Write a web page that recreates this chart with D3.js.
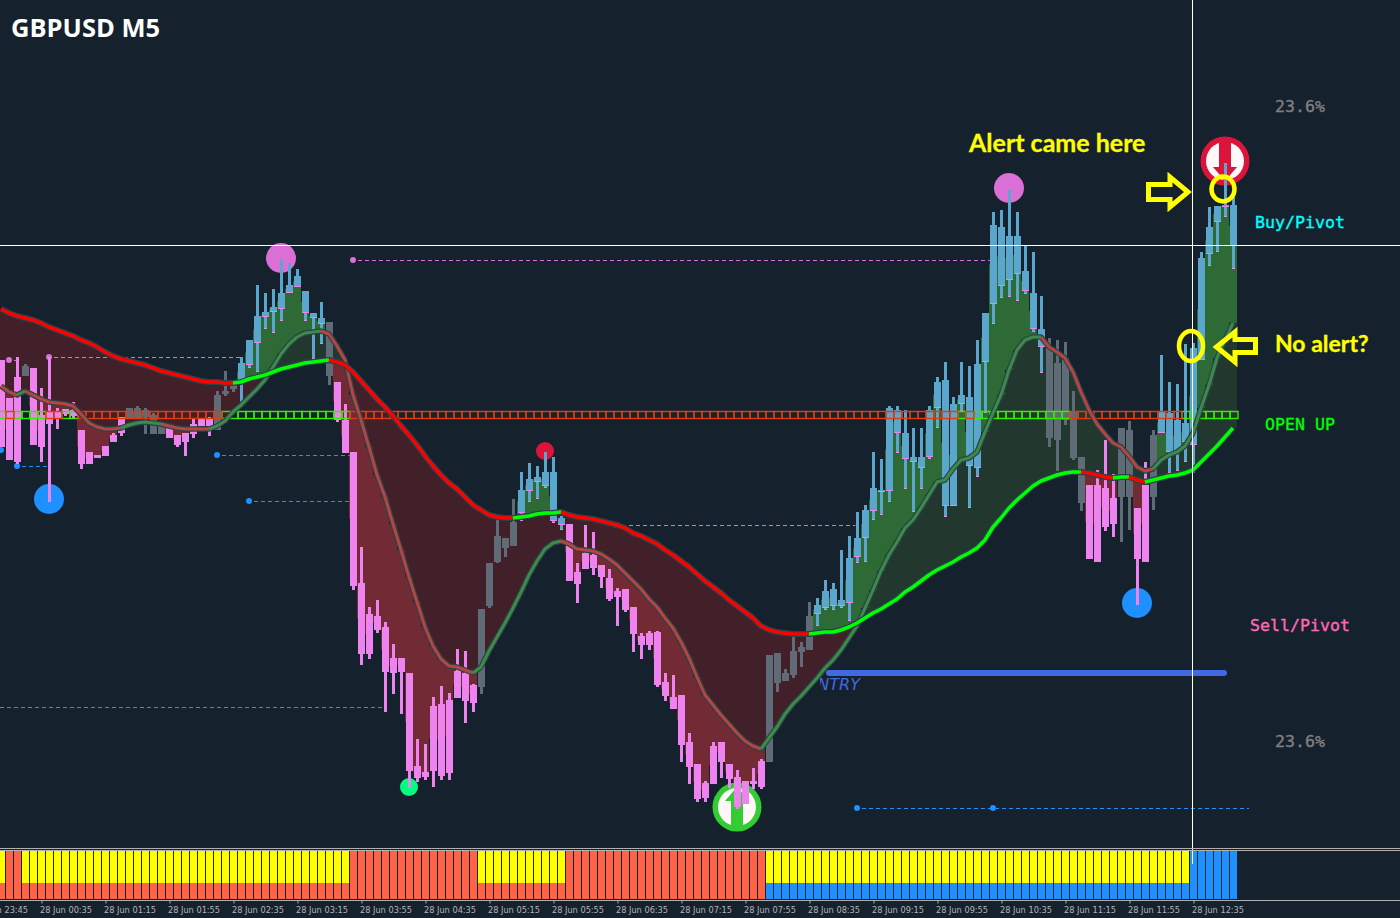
<!DOCTYPE html>
<html>
<head>
<meta charset="utf-8">
<style>
html,body{margin:0;padding:0;background:#16212e;overflow:hidden}
svg{display:block}
</style>
<script src="https://cdnjs.cloudflare.com/ajax/libs/d3/7.8.5/d3.min.js"></script>
</head>
<body>
<svg id="chart" width="1400" height="918"></svg>
<script>
// Values are points below a reference price level. One entry per 5-minute bar.
const kindRunStart = [0,3,4,16,21,27,30,41,42,60,65,71,96,102,131,136,140,142,144,145];
const kindRunType = ["p","g","p","g","p","g","b","g","p","g","b","p","g","b","g","p","g","p","g","b"];
const bodyTop = [360,398,377,366,368,415,412,411,409,410,430,452,455,446,435,417,408,408,410,415,425,428,435,433,424,418,418,395,391,385,363,340,316,312,307,293,285,276,291,313,318,322,382,420,
452,583,614,616,627,658,658,673,766,772,706,704,700,671,673,685,609,563,536,538,522,490,479,477,472,472,518,524,572,553,555,565,578,591,589,607,636,633,632,682,697,695,742,764,783,746,742,764,777,781,781,761,
655,653,673,651,647,616,605,591,589,600,558,538,510,488,490,408,410,433,457,457,410,382,380,404,395,397,364,313,225,227,236,236,271,293,329,348,363,358,412,457,485,485,488,498,428,430,508,485,435,412,413,420,423,348,258,227,206,205,205];
const bodyBottom = [447,460,462,376,445,447,424,419,414,416,464,464,458,456,442,433,418,418,417,434,434,438,445,442,434,426,426,430,394,389,380,365,343,317,312,309,293,287,313,318,324,376,420,453,
586,654,654,630,672,673,672,771,778,777,771,776,773,698,701,703,687,606,562,548,546,513,491,482,486,521,525,581,584,569,568,577,599,597,610,634,645,645,685,696,709,745,767,799,798,784,762,779,807,804,784,787,
762,683,681,675,652,650,614,608,606,606,603,557,538,511,492,491,433,459,462,468,457,408,506,506,404,466,468,362,304,286,280,274,291,329,347,438,440,420,458,503,559,562,527,524,497,497,559,562,497,433,452,451,442,445,360,254,222,207,246];
const wickTop = [360,398,357,364,368,388,357,408,409,402,430,452,455,446,433,417,408,406,408,413,425,428,435,433,419,418,417,391,371,385,357,340,285,293,289,260,263,269,291,313,302,322,382,404,
452,547,607,600,622,644,658,673,739,744,697,686,693,649,651,684,609,563,520,538,499,472,463,466,452,457,516,524,563,525,532,565,569,588,589,607,633,631,631,673,675,695,733,764,781,742,742,764,770,781,768,759,
655,653,669,637,642,602,598,580,583,550,536,512,505,452,459,406,406,410,428,428,406,377,362,397,362,366,340,313,212,210,190,212,245,252,296,338,340,342,391,457,485,470,440,474,428,421,508,462,430,355,382,384,344,343,252,207,206,163,197];
const wickBottom = [447,460,464,376,445,462,502,429,416,418,469,464,458,456,442,436,418,418,434,434,434,438,447,456,438,426,436,430,396,392,405,368,372,329,333,321,293,287,321,359,344,385,422,453,
590,665,659,633,712,694,714,788,782,780,787,780,780,698,723,712,694,608,563,557,546,521,502,499,488,523,530,581,603,569,575,588,601,626,612,652,659,650,687,701,709,762,784,802,802,784,778,788,809,804,789,789,
762,692,681,678,667,650,626,610,610,608,621,563,562,520,515,502,453,489,512,489,459,428,517,506,411,508,477,413,324,298,297,301,294,332,373,447,471,425,460,511,559,562,531,537,542,530,605,562,510,433,473,471,462,473,360,266,252,217,269];
const slowMA = [309,313,316,318,320,323,327,330,333,336,340,343,347,352,356,359,361,363,365,368,371,373,375,377,379,381,382,382,383,383,382,379,377,375,372,369,367,365,363,362,361,360,362,365,372,381,390,399,407,416,426,435,445,456,466,475,483,489,497,505,510,515,517,518,518,517,516,514,513,513,512,515,517,518,519,521,523,525,528,533,536,540,544,550,555,561,567,574,581,587,593,600,606,612,618,626,630,632,633,634,634,634,633,632,632,630,627,623,618,613,609,604,599,592,587,581,575,570,566,562,557,553,548,540,527,518,508,500,493,486,481,478,475,473,472,472,473,475,477,478,477,477,480,482,480,478,476,475,473,470,462,454,446,437,428];
const fastMA = [386,392,395,391,395,399,402,403,404,406,414,423,427,429,429,428,425,423,422,423,424,426,428,429,429,429,429,426,421,412,405,397,389,380,367,354,344,337,333,332,331,334,346,360,395,420,447,475,497,524,550,577,602,627,646,659,666,667,670,673,667,651,637,623,608,592,575,561,549,543,541,544,549,550,551,554,559,565,573,581,589,599,607,618,628,642,658,677,695,705,715,724,733,741,746,749,738,727,714,704,696,687,678,668,660,650,638,626,608,590,571,555,542,528,520,508,495,482,480,469,460,458,452,432,413,395,370,350,340,337,337,347,352,358,372,392,410,424,434,443,447,456,467,471,469,460,455,452,446,433,408,385,358,340,323];
// Trend runs: the bar at which each line changes colour, and the colour it changes to.
const slowRunStart = [0,29,41,64,70,101,135,139,141,143];
const slowRunUp = [false,true,false,true,false,true,false,true,false,true];
const fastRunStart = [0,2,3,15,20,26,40,59,70,95,130,144];
const fastRunUp = [false,true,false,true,false,true,false,true,false,true,false,true];
// OPEN strip: bars where the open sits on the bearish side.
const openDownBars = [[1,1],[6,7],[10,27],[44,119],[121,121],[134,147]];
const openLevelTop = 411.5, openLevelBottom = 418.5;
// Lower panel: runs of bars whose whole column has the trend colour.
const fullColumnRuns = [[1,2],[44,59],[71,95],[149,154]];
const lowerShareBlueFrom = 96;
const tickBars = [-3,5,13,21,29,37,45,53,61,69,77,85,93,101,109,117,125,133,141,149];
const tickLabels = ["28 Jun 23:45","28 Jun 00:35","28 Jun 01:15","28 Jun 01:55","28 Jun 02:35","28 Jun 03:15","28 Jun 03:55","28 Jun 04:35","28 Jun 05:15","28 Jun 05:55","28 Jun 06:35","28 Jun 07:15","28 Jun 07:55","28 Jun 08:35","28 Jun 09:15","28 Jun 09:55","28 Jun 10:35","28 Jun 11:15","28 Jun 11:55","28 Jun 12:35"];
// Signals
const bigSignalBars = [35,6,126,142,68,51];
const bigSignalLevels = [258,499,188,603,451,787];
const bigSignalRadii = [15,15,15,15,9,9];
const bigSignalColors = ["#da70d6","#1e90ff","#da70d6","#1e90ff","#dc143c","#00ff7f"];
const pivotStartBars = [44,6,1,27,31,77,107,2,0];
const pivotEndBars = [123.6,29.9,1.9,43.9,43.9,106.8,156,5.9,1];
const pivotLevels = [260,357,360,455,501,525,808,466,450];
const pivotColors = ["#da70d6","#da70d6","#da70d6","#1e90ff","#1e90ff","#da70d6","#1e90ff","#1e90ff","#1e90ff"];
const extraDashLevel = 707, extraDashEndBar = 48;

const W = 1400, H = 918;
const svg = d3.select("#chart");
const x = d3.scaleLinear().domain([0,154]).range([1,1233]);
const y = d3.scaleLinear().domain([0,918]).range([0,918]);
const bars = d3.range(bodyTop.length);
const barW = x(1)-x(0);
const kindOf = i => kindRunType[d3.bisectRight(kindRunStart,i)-1];

svg.append("rect").attr("width",W).attr("height",H).attr("fill","#16212e");

// Band between the two averages
const bandIdx = [-0.5].concat(bars, [154.5]);
const clampI = i => Math.max(0,Math.min(154,Math.round(i)));
const bandArea = d3.area().x(i=>x(i));
svg.append("path").datum(bandIdx).attr("fill","#42202a")
  .attr("d",bandArea.y0(i=>y(slowMA[clampI(i)])).y1(i=>y(Math.max(slowMA[clampI(i)],fastMA[clampI(i)]))));
svg.append("path").datum(bandIdx).attr("fill","#22382e")
  .attr("d",bandArea.y0(i=>y(slowMA[clampI(i)])).y1(i=>y(Math.min(slowMA[clampI(i)],fastMA[clampI(i)]))));

// Brighter columns between the average and the candle
bars.forEach(i=>{
  const k = kindOf(i);
  if(k==="g") return;
  const mid = (bodyTop[i]+bodyBottom[i])/2;
  if(k==="p"){
    const from = Math.max(fastMA[i],slowMA[i]);
    if(mid>from) svg.append("rect").attr("x",x(i)-barW/2).attr("width",barW).attr("y",y(from)).attr("height",y(mid)-y(from)).attr("fill","#722a35");
  } else {
    const from = Math.min(fastMA[i],slowMA[i]);
    if(mid<from) svg.append("rect").attr("x",x(i)-barW/2).attr("width",barW).attr("y",y(mid)).attr("height",y(from)-y(mid)).attr("fill","#2e6a35");
  }
});

// Pivot dashes
const dashG = svg.append("g");
pivotLevels.forEach((lv,j)=>{
  dashG.append("line").attr("x1",x(pivotStartBars[j])+5).attr("x2",x(pivotEndBars[j]))
    .attr("y1",y(lv)+.5).attr("y2",y(lv)+.5).attr("stroke",pivotColors[j]).attr("stroke-dasharray","4 3");
  dashG.append("circle").attr("cx",x(pivotStartBars[j])).attr("cy",y(lv)).attr("r",3).attr("fill",pivotColors[j]);
});
dashG.append("line").attr("x1",0).attr("x2",x(extraDashEndBar)).attr("y1",y(extraDashLevel)+.5).attr("y2",y(extraDashLevel)+.5).attr("stroke","#1e90ff").attr("stroke-dasharray","4 3");
dashG.append("circle").attr("cx",x(124)).attr("cy",y(808)).attr("r",3).attr("fill","#1e90ff");

// Big signal dots
bigSignalBars.forEach((b,j)=>{
  svg.append("circle").attr("cx",x(b)).attr("cy",y(bigSignalLevels[j])).attr("r",bigSignalRadii[j]).attr("fill",bigSignalColors[j]);
});

// Arrow badges
function badge(bar,level,ring,dir){
  const cx=x(bar), cy=y(level);
  const g=svg.append("g").attr("transform",`translate(${cx},${cy})`);
  g.append("circle").attr("r",24.5).attr("fill",ring);
  g.append("circle").attr("r",19).attr("fill","#fff8f8");
  const s=dir;
  g.append("path").attr("fill",ring).attr("d",
    `M-6,${-24*s}L6,${-24*s}L6,${6*s}L12,${6*s}L0,${20*s}L-12,${6*s}L-6,${6*s}Z`);
}
badge(92,807,"#32cd32",-1);
badge(153,161,"#dc143c",1);

// Candles
const colorOf = {p:"#ee82ee",b:"#5ba6cc",g:"#5f6b76"};
const cG = svg.append("g").attr("shape-rendering","crispEdges");
bars.forEach(i=>{
  const k = kindOf(i), c = colorOf[k], cx = x(i);
  cG.append("rect").attr("x",cx-1.5).attr("width",3).attr("y",y(wickTop[i])).attr("height",y(wickBottom[i])-y(wickTop[i])).attr("fill",c);
  cG.append("rect").attr("x",cx-3.5).attr("width",7).attr("y",y(bodyTop[i])).attr("height",y(bodyBottom[i])-y(bodyTop[i])).attr("fill",c);
  if(k==="b"){
    cG.append("rect").attr("x",cx-3.5).attr("width",7).attr("y",y(bodyBottom[i])-1).attr("height",1).attr("fill","#ee82ee");
    if(wickBottom[i]>bodyBottom[i]) cG.append("rect").attr("x",cx-1.5).attr("width",3).attr("y",y(wickBottom[i])-1).attr("height",1).attr("fill","#ee82ee");
  }
});

// OPEN strip
const isOpenDown = i => openDownBars.some(r=>i>=r[0]&&i<=r[1]);
const strip = svg.append("g").attr("fill","none");
bars.filter(i=>!isOpenDown(i)).forEach(i=>{
  strip.append("rect").attr("x",x(i)-barW/2+1).attr("width",barW).attr("y",y(openLevelTop)).attr("height",y(openLevelBottom)-y(openLevelTop)).attr("stroke","#33ee00").attr("stroke-width",1.4);
});
bars.filter(isOpenDown).forEach(i=>{
  strip.append("rect").attr("x",x(i)-barW/2+1).attr("width",barW).attr("y",y(openLevelTop)).attr("height",y(openLevelBottom)-y(openLevelTop)).attr("stroke","#e03c10").attr("stroke-width",1.4);
});

// Averages
function drawRuns(values,starts,ups,upC,downC,halo,w){
  const line = d3.line().x(i=>x(i)).y(i=>y(values[i])).curve(d3.curveLinear);
  svg.append("path").datum(bars).attr("d",line).attr("fill","none").attr("stroke",halo).attr("stroke-width",w+2.5).attr("stroke-linejoin","round");
  starts.forEach((s,j)=>{
    const e = j+1<starts.length?starts[j+1]:154;
    svg.append("path").datum(d3.range(s,e+1)).attr("d",line).attr("fill","none")
      .attr("stroke",ups[j]?upC:downC).attr("stroke-width",w).attr("stroke-linejoin","round");
  });
}
drawRuns(fastMA,fastRunStart,fastRunUp,"#3d8b47","#b8433f","#28434a",3);
drawRuns(slowMA,slowRunStart,slowRunUp,"#00ff00","#ff0000","#28434a",3.5);

// ENTRY level
svg.append("line").attr("x1",829).attr("x2",1224).attr("y1",673).attr("y2",673).attr("stroke","#4169e1").attr("stroke-width",6).attr("stroke-linecap","round");
svg.append("clipPath").attr("id","entryClip").append("rect").attr("x",820).attr("y",660).attr("width",60).attr("height",40);
svg.append("text").attr("x",860).attr("y",690).attr("text-anchor","end").attr("clip-path","url(#entryClip)")
  .attr("font-family","'DejaVu Sans'").attr("font-style","italic").attr("font-size",16).attr("fill","#4169e1").text("ENTRY");

// Crosshair
svg.append("line").attr("x1",0).attr("x2",W).attr("y1",245.5).attr("y2",245.5).attr("stroke","#fff");
svg.append("line").attr("x1",1192.5).attr("x2",1192.5).attr("y1",0).attr("y2",864).attr("stroke","#fff");

// Lower panel
const panelY = d3.scaleLinear().domain([0,3]).range([899,851]);
const isFull = i => fullColumnRuns.some(r=>i>=r[0]&&i<=r[1]);
const lowColor = i => i>=lowerShareBlueFrom?"#1e90ff":"#ff6347";
const pG = svg.append("g").attr("shape-rendering","crispEdges");
bars.forEach(i=>{
  const left = x(i)-barW/2+1;
  pG.append("rect").attr("x",left).attr("width",barW-1).attr("y",panelY(1)).attr("height",panelY(0)-panelY(1)).attr("fill",lowColor(i));
  pG.append("rect").attr("x",left).attr("width",barW-1).attr("y",panelY(3)).attr("height",panelY(1)-panelY(3)).attr("fill",isFull(i)?lowColor(i):"#ffff00");
});
[848.5,850.5,900.5].forEach(v=>svg.append("line").attr("x1",0).attr("x2",W).attr("y1",v).attr("y2",v).attr("stroke","#b0b0b0"));
svg.append("line").attr("x1",1192.5).attr("x2",1192.5).attr("y1",851).attr("y2",864).attr("stroke","#fff");

// Time axis
const axis = d3.axisBottom(x).tickValues(tickBars).tickFormat((d,j)=>tickLabels[j]).tickSize(3).tickPadding(3);
const ax = svg.append("g").attr("transform","translate(0.5,900.5)").call(axis);
ax.select(".domain").remove();
ax.selectAll(".tick line").attr("stroke","#b0b0b0");
ax.selectAll(".tick text").attr("text-anchor","start").attr("x",-2).attr("y",12).attr("dy",0)
  .attr("fill","#b4b4b4").attr("font-family","'DejaVu Sans'").attr("font-size",8.2);

// Titles and labels
function label(t,xp,yp,fam,weight,size,fill,stroke){
  const n=svg.append("text").attr("x",xp).attr("y",yp).attr("font-family",fam).attr("font-weight",weight).attr("font-size",size).attr("fill",fill).text(t);
  if(stroke) n.attr("stroke",fill).attr("stroke-width",stroke);
}
label("GBPUSD M5",11,37,"'Open Sans'",700,25.5,"#ffffff");
label("Alert came here",969,152,"Lato",700,25,"#ffff00",0.3);
label("No alert?",1275,352,"Lato",700,23,"#ffff00",0.3);
const mono="'DejaVu Sans Mono'";
label("23.6%",1275,112,mono,400,16.6,"#808080",0.35);
label("23.6%",1275,747,mono,400,16.6,"#808080",0.35);
label("Buy/Pivot",1255,228,mono,400,16.6,"#00ffff",0.35);
label("OPEN UP",1265,430,mono,400,16.6,"#00ff00",0.35);
label("Sell/Pivot",1250,631,mono,400,16.6,"#ff69b4",0.35);

// Hand-drawn annotations
const yellow="#ffff00";
function poly(pts){svg.append("polygon").attr("points",pts.join(" ")).attr("fill","none").attr("stroke",yellow).attr("stroke-width",5).attr("stroke-linejoin","miter");}
poly([[1148.5,184.5],[1170,184.5],[1170,177],[1188,192],[1170,207],[1170,199.5],[1148.5,199.5]]);
poly([[1255.5,339.5],[1235,339.5],[1235,332],[1216.5,347],[1235,362],[1235,352.5],[1255.5,352.5]]);
svg.append("ellipse").attr("cx",1223).attr("cy",189).attr("rx",11.5).attr("ry",12.5).attr("fill","none").attr("stroke",yellow).attr("stroke-width",4.5);
svg.append("ellipse").attr("cx",1191).attr("cy",346).attr("rx",12).attr("ry",15).attr("fill","none").attr("stroke",yellow).attr("stroke-width",4.5);
</script>
</body>
</html>
